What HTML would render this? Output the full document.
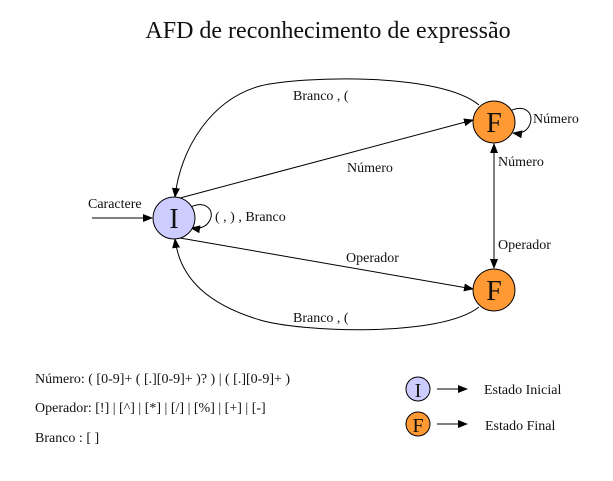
<!DOCTYPE html>
<html><head><meta charset="utf-8"><style>
html,body{margin:0;padding:0;background:#fff;}
svg{display:block;}
text{font-family:"Liberation Serif",serif;fill:#111;}
</style></head><body>
<svg width="613" height="481" viewBox="0 0 613 481" xmlns="http://www.w3.org/2000/svg">
<defs>
<marker id="a" markerWidth="10" markerHeight="8" refX="9" refY="4" orient="auto" markerUnits="userSpaceOnUse">
<path d="M0,0 L10,4 L0,8 z" fill="#000"/></marker>
</defs>
<text x="328" y="38" font-size="24" text-anchor="middle">AFD de reconhecimento de expressão</text>
<g fill="none" stroke="#000" stroke-width="1">
<path d="M479,105 C440,72 300,76 260,86 C210,100 180,150 175,197" marker-end="url(#a)"/>
<path d="M479,307 C440,338 300,332 260,320 C210,305 180,280 175,239" marker-end="url(#a)"/>
<path d="M180,198 L473,120" marker-end="url(#a)"/>
<path d="M180,238 L473,289" marker-end="url(#a)"/>
<path d="M494,146 L494,268" marker-end="url(#a)"/>
<path d="M494,266 L494,144" marker-end="url(#a)"/>
<path d="M92,218 L152,218" marker-end="url(#a)"/>
<path d="M191,207 C205,200 215,210 210,220 C206,228 198,229 191,228" marker-end="url(#a)"/>
<path d="M510,111 C525,104 534,113 530,124 C527,132 520,134 513,133" marker-end="url(#a)"/>
<path d="M437,389 L467,389" marker-end="url(#a)"/>
<path d="M437,424 L467,424" marker-end="url(#a)"/>
</g>
<circle cx="174" cy="218" r="21" fill="#ccccff" stroke="#000"/>
<text x="174" y="228" font-size="28" text-anchor="middle">I</text>
<circle cx="494" cy="122" r="21" fill="#ff9933" stroke="#000"/>
<text x="494" y="132" font-size="28" text-anchor="middle">F</text>
<circle cx="494" cy="290" r="21" fill="#ff9933" stroke="#000"/>
<text x="494" y="300" font-size="28" text-anchor="middle">F</text>
<g font-size="14">
<text x="293" y="100">Branco , (</text>
<text x="293" y="322">Branco , (</text>
<text x="347" y="172">Número</text>
<text x="346" y="262">Operador</text>
<text x="498" y="166">Número</text>
<text x="498" y="249">Operador</text>
<text x="533" y="123">Número</text>
<text x="88" y="208">Caractere</text>
<text x="215" y="221">( , ) , Branco</text>
<text x="35" y="383">Número: ( [0-9]+ ( [.][0-9]+ )? ) | ( [.][0-9]+ )</text>
<text x="35" y="412">Operador: [!] | [^] | [*] | [/] | [%] | [+] | [-]</text>
<text x="35" y="442">Branco : [ ]</text>
<text x="484" y="394">Estado Inicial</text>
<text x="485" y="430">Estado Final</text>
</g>
<circle cx="418" cy="389" r="12" fill="#ccccff" stroke="#000"/>
<text x="418" y="397" font-size="20" text-anchor="middle">I</text>
<circle cx="418" cy="424" r="12" fill="#ff9933" stroke="#000"/>
<text x="418" y="432" font-size="20" text-anchor="middle">F</text>
</svg>
</body></html>
